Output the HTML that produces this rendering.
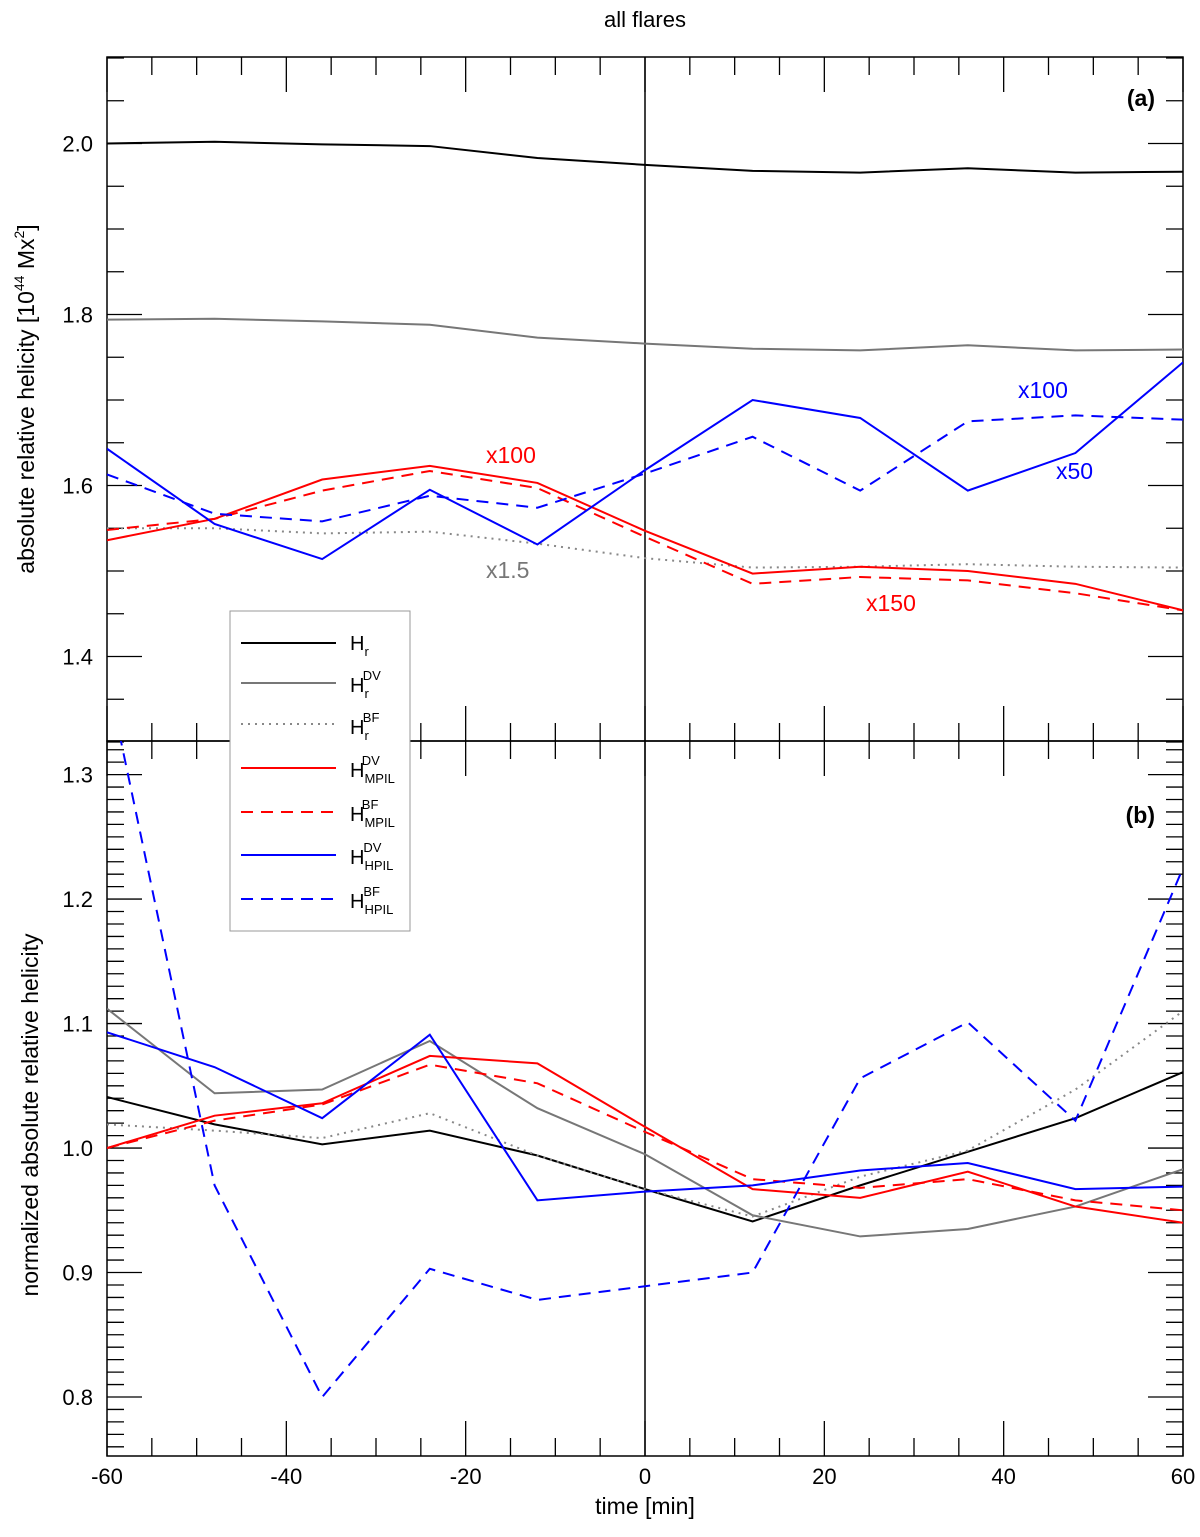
<!DOCTYPE html>
<html><head><meta charset="utf-8"><style>
body{margin:0;background:#fff}
svg{display:block;font-family:"Liberation Sans",Arial,sans-serif}
</style></head><body>
<svg id="c" width="1200" height="1537" viewBox="0 0 1200 1537">
<defs>
<clipPath id="ca"><rect x="107" y="57" width="1076" height="684"/></clipPath>
<clipPath id="cb"><rect x="107" y="741" width="1076" height="715"/></clipPath>
</defs>
<text x="645" y="27" text-anchor="middle" font-size="22">all flares</text>
<g id="ga"></g><g id="gb"></g>
</svg>
<script>
const times=[-60,-48,-36,-24,-12,0,12,24,36,48,60];
const aHr=[2.0,2.002,1.999,1.997,1.983,1.975,1.968,1.966,1.971,1.966,1.967];
const aHrDV=[1.794,1.795,1.792,1.788,1.773,1.766,1.760,1.758,1.764,1.758,1.759];
const aHrBF=[1.550,1.550,1.544,1.546,1.532,1.515,1.504,1.505,1.508,1.505,1.504];
const aMDV=[1.536,1.561,1.607,1.623,1.603,1.547,1.497,1.505,1.500,1.485,1.454];
const aMBF=[1.548,1.561,1.594,1.617,1.597,1.540,1.485,1.493,1.489,1.474,1.454];
const aHDV=[1.643,1.555,1.514,1.595,1.531,1.618,1.700,1.679,1.594,1.638,1.744];
const aHBF=[1.613,1.567,1.558,1.588,1.574,1.614,1.657,1.594,1.675,1.682,1.677];
const bHr=[1.041,1.019,1.003,1.014,0.994,0.967,0.941,0.970,0.997,1.024,1.061];
const bHrDV=[1.112,1.044,1.047,1.086,1.032,0.995,0.946,0.929,0.935,0.953,0.983];
const bHrBF=[1.019,1.014,1.008,1.028,0.994,0.967,0.945,0.977,0.998,1.047,1.110];
const bMDV=[1.0,1.026,1.036,1.074,1.068,1.017,0.967,0.960,0.981,0.953,0.940];
const bMBF=[1.0,1.022,1.035,1.067,1.052,1.013,0.975,0.968,0.975,0.958,0.950];
const bHDV=[1.093,1.065,1.024,1.091,0.958,0.965,0.970,0.982,0.988,0.967,0.969];
const bHBF=[1.38,0.97,0.80,0.903,0.878,0.889,0.900,1.056,1.101,1.022,1.225];
const xTicks=[-60,-40,-20,0,20,40,60];
const aTicks=[1.4,1.6,1.8,2.0];
const bTicks=[0.8,0.9,1.0,1.1,1.2,1.3];
const NS='http://www.w3.org/2000/svg';
const X0=107,X1=1183;
const xs=t=>X0+(t+60)/120*(X1-X0);
const ya=v=>742-(v-1.3)/0.8*684;
const yb=v=>1456-(v-0.7526)/0.5744*715;
function mk(p,tag,at){const e=document.createElementNS(NS,tag);for(const k in at)e.setAttribute(k,at[k]);p.appendChild(e);return e;}
const styles={blk:['#000',2,''],gry:['#777',2,''],dot:['#888',2,'2,5'],red:['#f00',2,''],redd:['#f00',2,'12,8'],blu:['#00f',2,''],blud:['#00f',2,'12,8']};
function series(g,arr,yf,st,name,clip){
  const s=styles[st];
  const p=mk(g,'polyline',{points:arr.map((v,i)=>xs(times[i])+','+yf(v)).join(' '),fill:'none',stroke:s[0],'stroke-width':s[1],'stroke-dasharray':s[2],'clip-path':clip});
  
  
}
function frame(g,top,bot,yf,ticks,minor,ymin,ymax,showX,pname){
  const r=mk(g,'rect',{x:X0,y:top,width:X1-X0,height:bot-top,fill:'none',stroke:'#000','stroke-width':1.5});
  
  
  for(let t=-60;t<=60;t+=5){const x=xs(t);const L=(t%20===0)?35:18;
    mk(g,'line',{x1:x,x2:x,y1:bot,y2:bot-L,stroke:'#000','stroke-width':1.3});
    mk(g,'line',{x1:x,x2:x,y1:top,y2:top+L,stroke:'#000','stroke-width':1.3});}
  for(let v=ymin;v<=ymax+1e-9;v+=minor){const y=yf(v);const maj=ticks.some(k=>Math.abs(k-v)<1e-6);const L=maj?35:17;
    mk(g,'line',{x1:X0,x2:X0+L,y1:y,y2:y,stroke:'#000','stroke-width':1.3});
    mk(g,'line',{x1:X1,x2:X1-L,y1:y,y2:y,stroke:'#000','stroke-width':1.3});}
  ticks.forEach(v=>{const t=mk(g,'text',{x:93,y:yf(v)+8,'text-anchor':'end','font-size':22});t.textContent=v.toFixed(1);
    
    });
  if(showX)xTicks.forEach(v=>{const t=mk(g,'text',{x:xs(v),y:bot+28,'text-anchor':'middle','font-size':22});t.textContent=v;
    
    });
  mk(g,'line',{x1:xs(0),x2:xs(0),y1:top,y2:bot,stroke:'#000','stroke-width':1.5});
}
const ga=document.getElementById('ga'),gb=document.getElementById('gb');
frame(ga,57,741,ya,aTicks,0.05,1.3,2.1,false,'panel-a');
frame(gb,741,1456,yb,bTicks,0.01,0.76,1.32,true,'panel-b');
series(ga,aHr,ya,'blk','a-hr-line','url(#ca)');series(ga,aHrDV,ya,'gry','a-hr-dv-line','url(#ca)');series(ga,aHrBF,ya,'dot','a-hr-bf-line','url(#ca)');
series(ga,aMDV,ya,'red','a-mpil-dv-line','url(#ca)');series(ga,aMBF,ya,'redd','a-mpil-bf-line','url(#ca)');
series(ga,aHDV,ya,'blu','a-hpil-dv-line','url(#ca)');series(ga,aHBF,ya,'blud','a-hpil-bf-line','url(#ca)');
series(gb,bHr,yb,'blk','b-hr-line','url(#cb)');series(gb,bHrDV,yb,'gry','b-hr-dv-line','url(#cb)');series(gb,bHrBF,yb,'dot','b-hr-bf-line','url(#cb)');
series(gb,bMDV,yb,'red','b-mpil-dv-line','url(#cb)');series(gb,bMBF,yb,'redd','b-mpil-bf-line','url(#cb)');
series(gb,bHDV,yb,'blu','b-hpil-dv-line','url(#cb)');series(gb,bHBF,yb,'blud','b-hpil-bf-line','url(#cb)');
</script>
<svg style="position:absolute;left:0;top:0" width="1200" height="1537" font-family="Liberation Sans, Arial, sans-serif">
<text x="1155" y="106" text-anchor="end" font-size="23" font-weight="bold">(a)</text>
<text x="1155" y="823" text-anchor="end" font-size="23" font-weight="bold">(b)</text>
<text x="486" y="463" fill="#f00" font-size="23">x100</text>
<text x="866" y="611" fill="#f00" font-size="23">x150</text>
<text x="1018" y="398" fill="#00f" font-size="23">x100</text>
<text x="1056" y="479" fill="#00f" font-size="23">x50</text>
<text x="486" y="578" fill="#777" font-size="23">x1.5</text>
<text transform="translate(34,399) rotate(-90)" text-anchor="middle" font-size="23">absolute relative helicity [10<tspan font-size="14" dy="-10">44</tspan><tspan dy="10"> Mx</tspan><tspan font-size="14" dy="-10">2</tspan><tspan dy="10">]</tspan></text>
<text transform="translate(38,1115) rotate(-90)" text-anchor="middle" font-size="23">normalized absolute relative helicity</text>
<text x="645" y="1514" text-anchor="middle" font-size="23">time [min]</text>
<g>
<rect x="230" y="611" width="180" height="320" fill="#fff" stroke="#999" stroke-width="1"/>
<g font-size="20">
<line x1="241" x2="336" y1="643" y2="643" stroke="#000" stroke-width="2"/><text x="350" y="650">H<tspan font-size="13" dy="6">r</tspan></text>
<line x1="241" x2="336" y1="683" y2="683" stroke="#777" stroke-width="2"/><text x="350" y="692">H<tspan font-size="13" dy="6">r</tspan><tspan font-size="13" dx="-6" dy="-18">DV</tspan></text>
<line x1="241" x2="336" y1="724" y2="724" stroke="#888" stroke-width="2" stroke-dasharray="2,5"/><text x="350" y="734">H<tspan font-size="13" dy="6">r</tspan><tspan font-size="13" dx="-6" dy="-18">BF</tspan></text>
<line x1="241" x2="336" y1="768" y2="768" stroke="#f00" stroke-width="2"/><text x="350" y="777">H<tspan font-size="13" dy="6">MPIL</tspan><tspan font-size="13" dx="-33" dy="-18">DV</tspan></text>
<line x1="241" x2="336" y1="812" y2="812" stroke="#f00" stroke-width="2" stroke-dasharray="12,8"/><text x="350" y="821">H<tspan font-size="13" dy="6">MPIL</tspan><tspan font-size="13" dx="-33" dy="-18">BF</tspan></text>
<line x1="241" x2="336" y1="855" y2="855" stroke="#00f" stroke-width="2"/><text x="350" y="864">H<tspan font-size="13" dy="6">HPIL</tspan><tspan font-size="13" dx="-30" dy="-18">DV</tspan></text>
<line x1="241" x2="336" y1="899" y2="899" stroke="#00f" stroke-width="2" stroke-dasharray="12,8"/><text x="350" y="908">H<tspan font-size="13" dy="6">HPIL</tspan><tspan font-size="13" dx="-30" dy="-18">BF</tspan></text>
</g></g>
</svg>
</body></html>
